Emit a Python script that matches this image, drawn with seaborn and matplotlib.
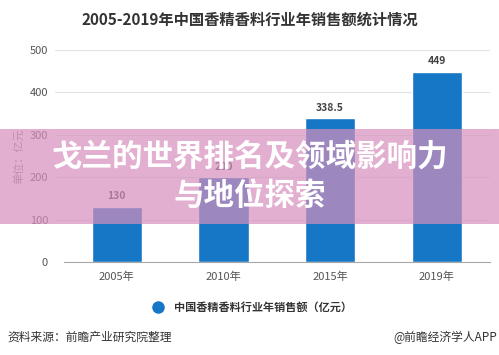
import numpy as np
import pandas as pd
import matplotlib
matplotlib.use("Agg")
import matplotlib.pyplot as plt
from matplotlib.patches import Rectangle
from matplotlib.lines import Line2D
import seaborn as sns

# 数据
years = ["2005年", "2010年", "2015年", "2019年"]
sales = [130, 200, 338.5, 449]
value_labels = ["130", "200", "338.5", "449"]
yticks = [0, 100, 200, 300, 400, 500]

sns.set_style("white")
plt.rcParams['font.family'] = ['Noto Sans CJK SC', 'DejaVu Sans']

df = pd.DataFrame({"年份": years, "销售额": sales})

fig = plt.figure(figsize=(4.99, 3.55), dpi=100)
ax = fig.add_axes([55 / 499, 1 - 262 / 355, 435 / 499, 212 / 355])

sns.barplot(data=df, x="年份", y="销售额", color="#1677c6", width=0.47,
            saturation=1, ax=ax, zorder=3)

ax.set_xlim(-0.58, 3.5)
ax.set_ylim(0, 500)
ax.set_yticks(yticks)
ax.yaxis.grid(True, color="#e3e3e3", linewidth=0.8, zorder=0)
ax.set_axisbelow(True)
for s in ["top", "right", "left"]:
    ax.spines[s].set_visible(False)
ax.spines["bottom"].set_color("#a8a8a8")
ax.spines["bottom"].set_bounds(-0.5, 3.5)
ax.tick_params(axis="y", length=0, labelsize=8, labelcolor="#555555", pad=5)
ax.tick_params(axis="x", length=3, color="#a8a8a8", labelsize=8,
               labelcolor="#555555", pad=4)
ax.set_xlabel("")
ax.set_ylabel("单位：亿元", fontsize=8, color="#8a8a8a", labelpad=4)

ax.bar_label(ax.containers[0], labels=value_labels, padding=4, fontsize=7.5,
             color="#444444", fontweight="bold")

fig.text(0.5, 1 - 20 / 355, "2005-2019年中国香精香料行业年销售额统计情况",
         ha="center", va="center", fontsize=11, fontweight="bold",
         color="#333333")

# 图例
handle = Line2D([], [], marker="o", linestyle="none", markersize=8,
                markerfacecolor="#1677c6", markeredgecolor="#1677c6")
fig.legend([handle], ["中国香精香料行业年销售额（亿元）"], loc="center",
           bbox_to_anchor=(0.5, 1 - 307 / 355), frameon=False,
           prop={"size": 8, "weight": "bold"}, handletextpad=0.4,
           labelcolor="#333333")

# 来源
fig.text(7 / 499, 1 - 337 / 355, "资料来源：前瞻产业研究院整理",
         ha="left", va="center", fontsize=8.5, color="#333333")
fig.text(497 / 499, 1 - 337 / 355, "@前瞻经济学人APP",
         ha="right", va="center", fontsize=8.5, color="#333333")

# 覆盖横幅
fig.patches.append(Rectangle((0, 1 - 224 / 355), 1, 95 / 355,
                             transform=fig.transFigure, facecolor="#d68ebc",
                             alpha=0.7, edgecolor="none", zorder=10))
fig.text(0.5, 1 - 157 / 355, "戈兰的世界排名及领域影响力", ha="center",
         va="center", fontsize=22, fontweight="bold", color="white", zorder=11)
fig.text(0.5, 1 - 196 / 355, "与地位探索", ha="center",
         va="center", fontsize=22, fontweight="bold", color="white", zorder=11)

fig.savefig("out.png", dpi=100)
